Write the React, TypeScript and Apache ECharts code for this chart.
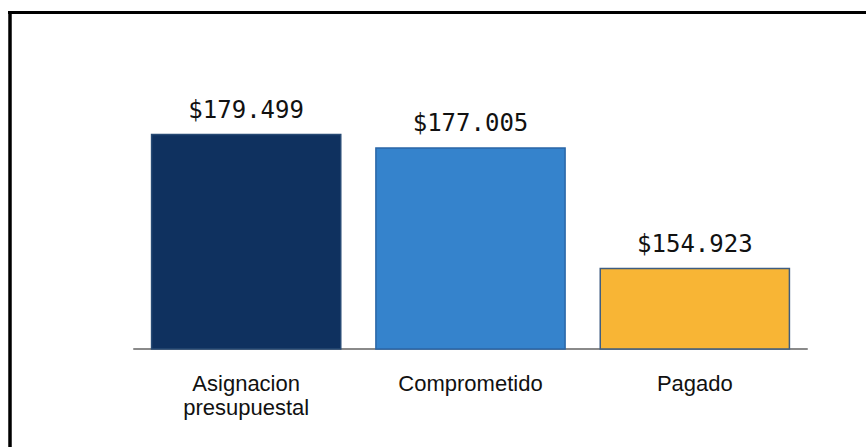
import React, { useEffect, useRef } from "react";
import * as echarts from "echarts";

const categories = ["Asignacion\npresupuestal", "Comprometido", "Pagado"];
const values = [179.499, 177.005, 154.923];
const barColors = ["#0f315f", "#3583cc", "#f8b535"];
const borderColors = ["#274a74", "#2a66a6", "#3f5d80"];

export default function App() {
  const ref = useRef<HTMLDivElement>(null);
  useEffect(() => {
    if (!ref.current) return;
    const chart = echarts.init(ref.current, null, { renderer: "svg" });
    chart.setOption({
      animation: false,
      backgroundColor: "#ffffff",
      grid: { left: 134, right: 59, top: 22, bottom: 98 },
      xAxis: {
        type: "category",
        data: categories,
        axisLine: { show: true, lineStyle: { color: "#8a8a8a", width: 2 } },
        axisTick: { show: false },
        axisLabel: {
          color: "#111111",
          fontFamily: "Liberation Sans",
          fontSize: 22,
          lineHeight: 24,
          margin: 22,
        },
      },
      yAxis: {
        type: "value",
        min: 140,
        max: 200,
        show: false,
        splitLine: { show: false },
      },
      series: [
        {
          type: "bar",
          barCategoryGap: "15%",
          data: values.map((v, i) => ({
            value: v,
            itemStyle: {
              color: barColors[i],
              borderColor: borderColors[i],
              borderWidth: 1.5,
            },
          })),
          label: {
            show: true,
            position: "top",
            distance: 12,
            color: "#111111",
            fontFamily: "DejaVu Sans Mono",
            fontSize: 24,
            formatter: (p: any) => "$" + Number(p.value).toFixed(3),
          },
        },
      ],
      graphic: [
        {
          type: "line",
          shape: { x1: 8, y1: 12.5, x2: 866, y2: 12.5 },
          style: { stroke: "#000000", lineWidth: 3 },
        },
        {
          type: "line",
          shape: { x1: 10, y1: 11, x2: 10, y2: 447 },
          style: { stroke: "#000000", lineWidth: 3.5 },
        },
      ],
    });
    return () => chart.dispose();
  }, []);
  return (
    <div
      ref={ref}
      style={{ position: "fixed", left: 0, top: 0, width: 866, height: 447 }}
    />
  );
}
